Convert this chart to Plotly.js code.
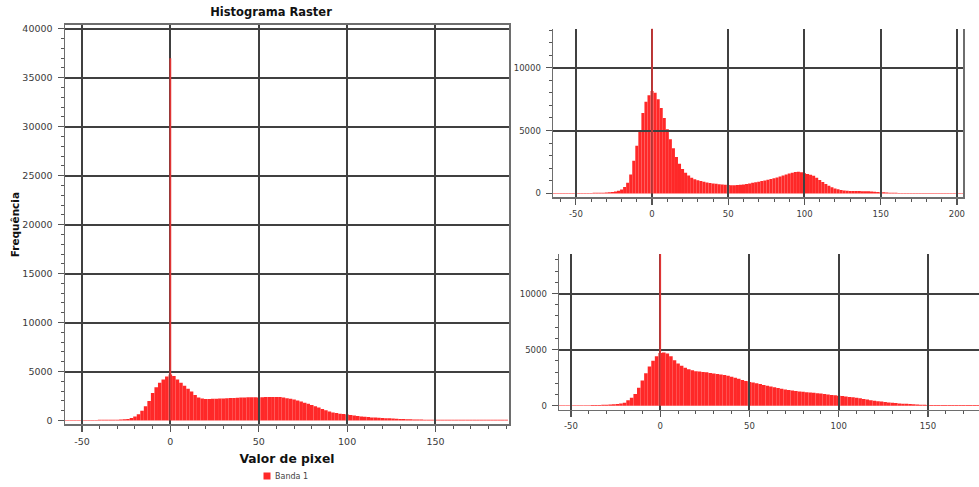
<!DOCTYPE html>
<html>
<head>
<meta charset="utf-8">
<script src="https://cdn.plot.ly/plotly-3.0.1.min.js"></script>
<style>
html,body{margin:0;padding:0;background:#fff;}
#chart{width:979px;height:487px;}
</style>
</head>
<body>
<div id="chart"></div>
<script>
// ---------- data ----------
const binWidth = 2;

// Banda 1 (main histogram, left panel): bin centres start at -60, step 2
const band1Start = -60;
const band1Counts = [
  60,60,60,60,60,60,60,60,60,60,70,70,70,80,80,90,100,120,
  160,250,400,650,1000,1450,2000,2800,3400,3850,
  4200,4500,4700,4550,4200,3850,3550,3250,2950,2600,
  2350,2250,2200,2200,2220,2230,2250,2250,2280,2290,
  2300,2320,2350,2360,2380,2380,2370,2360,2370,2390,
  2400,2410,2400,2390,2340,2280,2220,2150,2050,1950,
  1820,1700,1580,1450,1320,1180,1050,920,830,760,
  700,660,620,560,500,450,420,390,350,320,
  300,280,260,240,220,200,180,165,150,135,
  120,110,100,95,90,85,80,75,
  70,70,70,70,70,70,70,70,70,70,70,70,70,70,70,70,70,70,70,70
];

// Band shown top-right: bin centres start at -64, step 2
const band2Start = -64;
const band2Counts = [
  40,40,40,40,40,40,40,40,40,40,40,40,40,50,50,60,60,70,90,110,
  150,220,300,500,850,1500,2600,3800,5000,6400,
  7300,7800,8150,8000,7500,6800,6000,5100,4300,3600,
  2900,2350,1950,1650,1420,1250,1130,1050,980,920,
  870,830,790,760,730,700,680,660,650,650,
  660,680,710,750,790,840,880,930,980,1030,
  1090,1140,1200,1270,1350,1430,1510,1580,1640,1700,
  1720,1680,1600,1540,1480,1400,1250,1060,900,740,
  600,480,390,320,270,230,210,195,190,185,
  185,180,175,165,150,130,115,100,85,70,
  60,55,50,
  40,40,40,40,40,40,40,40,40,40,40,40,40,40,40,40,40,40,40,40,40,40
];

// Band shown bottom-right: bin centres start at -58, step 2
const band3Start = -58;
const band3Counts = [
  40,40,40,40,40,40,40,40,40,40,50,50,60,70,80,100,130,
  150,190,260,480,700,1050,1600,2250,2900,3500,
  4000,4400,4700,4750,4650,4400,4050,3750,3550,3380,
  3250,3150,3080,3040,3010,2980,2920,2870,2830,2790,
  2740,2660,2580,2490,2390,2290,2200,2120,2060,2000,
  1930,1850,1770,1700,1640,1570,1500,1450,1400,1350,
  1300,1260,1240,1200,1170,1140,1110,1090,1050,1000,
  960,920,885,850,810,770,740,710,660,600,
  540,490,440,400,360,320,290,265,230,200,
  180,160,150,130,110,90,75,65,
  50,50,50,50,50,50,50,50,50,50,50,50,50,50,50
];

// narrow spike at pixel value 0 in each band
const spikeX = [0];
const band1Spike = [37000];
const band2Spike = [14000];
const band3Spike = [14000];

// tick labels
const xTicks1 = [-50, 0, 50, 100, 150];
const xTickText1 = ['-50', '0', '50', '100', '150'];
const xTicks2 = [-50, 0, 50, 100, 150, 200];
const xTickText2 = ['-50', '0', '50', '100', '150', '200'];
const xTicks3 = [-50, 0, 50, 100, 150];
const xTickText3 = ['-50', '0', '50', '100', '150'];
const yTicks1 = [0, 5000, 10000, 15000, 20000, 25000, 30000, 35000, 40000];
const yTickText1 = ['0', '5000', '10000', '15000', '20000', '25000', '30000', '35000', '40000'];
const yTicks23 = [0, 5000, 10000];
const yTickText23 = ['0', '5000', '10000'];

const chartTitle = 'Histograma Raster';
const xTitle = 'Valor de pixel';
const yTitle = 'Frequência';
const legendName = 'Banda 1';

// ---------- build ----------
const centres = (start, arr) => arr.map((_, i) => start + i * binWidth);
const W = 979, H = 487;
const px = v => v / W;
const py = v => 1 - v / H;

const barColor = '#ff2828';
const spikeColor = '#e03434';
const gridColor = '#404040';
const lineColor = '#6e6e6e';
const tickColor = '#555';

function histTrace(start, counts, xa, ya, show) {
  return {
    type: 'bar', x: centres(start, counts), y: counts, width: binWidth,
    xaxis: xa, yaxis: ya, name: legendName, showlegend: show,
    marker: {color: barColor, line: {width: 0}}, hoverinfo: 'x+y'
  };
}
function spikeTrace(vals, xa, ya) {
  return {
    type: 'bar', x: spikeX, y: vals, width: 1, xaxis: xa, yaxis: ya,
    showlegend: false, marker: {color: spikeColor, line: {width: 0}}, hoverinfo: 'x+y'
  };
}

const traces = [
  histTrace(band1Start, band1Counts, 'x', 'y', true),
  histTrace(band2Start, band2Counts, 'x2', 'y2', false),
  histTrace(band3Start, band3Counts, 'x3', 'y3', false),
  spikeTrace(band1Spike, 'x4', 'y4'),
  spikeTrace(band2Spike, 'x5', 'y5'),
  spikeTrace(band3Spike, 'x6', 'y6')
];

function mainX(dom, rng, vals, txt, fs, mirror, anchor, extra) {
  return Object.assign({
    domain: dom, range: rng, anchor: anchor, tickmode: 'array', tickvals: vals, ticktext: txt,
    ticks: 'outside', ticklen: 6, tickwidth: 1.2, tickcolor: tickColor,
    minor: {dtick: 10, tick0: 0, ticks: 'outside', ticklen: 3, tickwidth: 1, tickcolor: tickColor, showgrid: false},
    showgrid: false, zeroline: false, showline: true, linecolor: lineColor, linewidth: 1.5, mirror: mirror,
    tickfont: {family: 'DejaVu Sans', size: fs, color: '#3a3a3a'}, ticklabelstandoff: 2, fixedrange: true
  }, extra || {});
}
function mainY(dom, rng, vals, txt, fs, mirror, anchor, extra) {
  return Object.assign({
    domain: dom, range: rng, anchor: anchor, tickmode: 'array', tickvals: vals, ticktext: txt,
    ticks: 'outside', ticklen: 6, tickwidth: 1.2, tickcolor: tickColor,
    minor: {dtick: 1000, tick0: 0, ticks: 'outside', ticklen: 3, tickwidth: 1, tickcolor: tickColor, showgrid: false},
    showgrid: false, zeroline: false, showline: true, linecolor: lineColor, linewidth: 1.5, mirror: mirror,
    tickfont: {family: 'DejaVu Sans', size: fs, color: '#3a3a3a'}, ticklabelstandoff: 3, fixedrange: true
  }, extra || {});
}
function gridX(dom, rng, vals, anchor) {
  return {domain: dom, range: rng, anchor: anchor, tickmode: 'array', tickvals: vals,
    showticklabels: false, ticks: '', showgrid: true, gridcolor: gridColor, gridwidth: 2,
    zeroline: false, showline: false, fixedrange: true};
}
function gridY(dom, rng, vals, anchor) {
  return {domain: dom, range: rng, anchor: anchor, tickmode: 'array', tickvals: vals.filter(v => v > 0),
    showticklabels: false, ticks: '', showgrid: true, gridcolor: gridColor, gridwidth: 2,
    zeroline: false, showline: false, fixedrange: true};
}

const d1x = [px(65), px(509)], d1y = [py(428), py(25)];
const r1x = [-59.6, 191.6], r1y = [-405, 40405];
const d2x = [px(553), px(963)], d2y = [py(199), py(29)];
const r2x = [-65, 204], r2y = [-316, 13100];
const d3x = [px(559), 1], d3y = [py(413), py(256)];
const r3x = [-56.7, 178.6], r3y = [-354, 13540];

const boldFont = (s) => ({family: 'DejaVu Sans', size: s, color: '#111', weight: 700});

const layout = {
  width: W, height: H, autosize: false,
  margin: {l: 0, r: 0, t: 0, b: 0, pad: 0},
  paper_bgcolor: '#ffffff', plot_bgcolor: 'rgba(0,0,0,0)',
  bargap: 0.0001, barmode: 'overlay',
  title: {text: chartTitle, font: boldFont(11.5), x: px(271), xanchor: 'center', xref: 'paper',
          y: py(12), yanchor: 'middle', yref: 'paper'},
  xaxis: mainX(d1x, r1x, xTicks1, xTickText1, 9.5, true, 'y',
    {title: {text: xTitle, font: boldFont(12.3), standoff: 8}}),
  yaxis: mainY(d1y, r1y, yTicks1, yTickText1, 9.5, true, 'x',
    {title: {text: yTitle, font: boldFont(10.5), standoff: 0}}),
  xaxis2: mainX(d2x, r2x, xTicks2, xTickText2, 8.5, false, 'y2'),
  yaxis2: mainY(d2y, r2y, yTicks23, yTickText23, 8.5, true, 'x2'),
  xaxis3: mainX(d3x, r3x, xTicks3, xTickText3, 8.5, false, 'y3'),
  yaxis3: mainY(d3y, r3y, yTicks23, yTickText23, 8.5, false, 'x3'),
  xaxis4: gridX(d1x, r1x, xTicks1, 'y4'),
  yaxis4: gridY(d1y, r1y, yTicks1, 'x4'),
  xaxis5: gridX(d2x, r2x, xTicks2, 'y5'),
  yaxis5: gridY(d2y, r2y, yTicks23, 'x5'),
  xaxis6: gridX(d3x, r3x, xTicks3, 'y6'),
  yaxis6: gridY(d3y, r3y, yTicks23, 'x6'),
  showlegend: true,
  legend: {x: px(247), xanchor: 'left', y: py(476), yanchor: 'middle', orientation: 'h',
           bgcolor: 'rgba(0,0,0,0)', font: {family: 'DejaVu Sans', size: 8, color: '#444'},
           itemwidth: 30, tracegroupgap: 0}
};

Plotly.newPlot('chart', traces, layout, {staticPlot: true, displayModeBar: false}).then(gd => {
  // compact legend swatch: smaller square, text closer to it, nudged down
  gd.querySelectorAll('.legend .legendpoints path').forEach(p => p.setAttribute('d', 'M3.5,3.5H-3.5V-3.5H3.5Z'));
  gd.querySelectorAll('.legend .legendtext').forEach(t => t.setAttribute('x', '28'));
  gd.querySelectorAll('.legend .traces').forEach(g => {
    g.setAttribute('transform', (g.getAttribute('transform') || '') + ' translate(0,4)');
  });
});
</script>
</body>
</html>
